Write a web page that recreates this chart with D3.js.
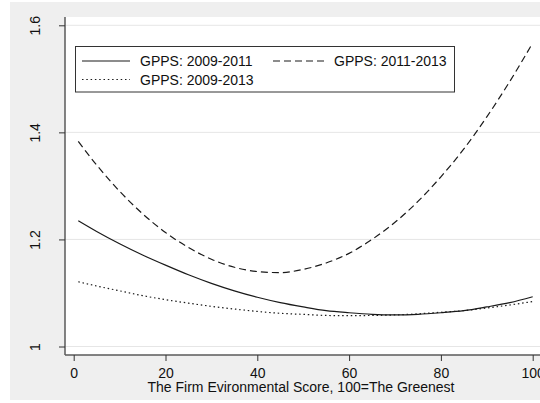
<!DOCTYPE html>
<html>
<head>
<meta charset="utf-8">
<script src="https://cdn.jsdelivr.net/npm/d3@7"></script>
<style>
  html, body { margin: 0; padding: 0; background: #ffffff; }
  svg { display: block; font-family: "Liberation Sans", Arial, sans-serif; }
</style>
</head>
<body>
<svg id="chart" width="540" height="403"></svg>
<script>
// ---- data ----
const xValues = [1, 5, 10, 15, 20, 25, 30, 35, 40, 45, 50, 55, 60, 65, 70, 75, 80, 85, 90, 95, 100];
const gpps0911 = [1.235, 1.215, 1.192, 1.171, 1.152, 1.134, 1.118, 1.104, 1.092, 1.082, 1.074, 1.067, 1.063, 1.060, 1.059, 1.060, 1.063, 1.067, 1.074, 1.082, 1.093];
const gpps1113 = [1.383, 1.339, 1.290, 1.248, 1.213, 1.185, 1.163, 1.148, 1.140, 1.138, 1.144, 1.156, 1.174, 1.200, 1.232, 1.271, 1.317, 1.369, 1.429, 1.495, 1.567];
const gpps0913 = [1.121, 1.113, 1.104, 1.095, 1.0875, 1.081, 1.075, 1.070, 1.0655, 1.062, 1.060, 1.058, 1.0575, 1.058, 1.059, 1.061, 1.064, 1.067, 1.072, 1.0775, 1.084];
const xTicks = [0, 20, 40, 60, 80, 100];
const yTicks = [1, 1.2, 1.4, 1.6];
const seriesNames = ["GPPS: 2009-2011", "GPPS: 2011-2013", "GPPS: 2009-2013"];
const xTitle = "The Firm Evironmental Score, 100=The Greenest";

const series = [
  { name: seriesNames[0], values: gpps0911, dash: null },
  { name: seriesNames[1], values: gpps1113, dash: "7,4" },
  { name: seriesNames[2], values: gpps0913, dash: "1.5,2.8" }
];

// ---- layout ----
const svg = d3.select("#chart");
const plotLeft = 65, plotTop = 17, plotBottom = 355, plotRight = 540;
const fontSize = "14px";

svg.append("rect").attr("x", 10).attr("y", 2).attr("width", 530).attr("height", 398)
  .attr("fill", "#efefef");
svg.append("rect").attr("x", plotLeft).attr("y", plotTop)
  .attr("width", plotRight - plotLeft).attr("height", plotBottom - plotTop)
  .attr("fill", "#ffffff");

const x = d3.scaleLinear().domain([0, 100]).range([73.7, 532.7]);
const y = d3.scaleLinear().domain([1, 1.6]).range([346.5, 25.3]);

// gridlines
svg.append("g").selectAll("line").data(yTicks).join("line")
  .attr("x1", plotLeft).attr("x2", plotRight)
  .attr("y1", d => y(d)).attr("y2", d => y(d))
  .attr("stroke", "#e6e6e6").attr("stroke-width", 1);

// y axis
const yAxis = d3.axisLeft(y).tickValues(yTicks).tickSize(6).tickPadding(0)
  .tickFormat(d => d3.format("")(d));
const gy = svg.append("g").attr("transform", `translate(${plotLeft},0)`).call(yAxis);
gy.select(".domain").attr("d", `M0,${plotTop}V${plotBottom}`).attr("stroke", "#5a5a5a").attr("stroke-width", 1.5);
gy.selectAll(".tick line").attr("stroke", "#333").attr("stroke-width", 1);
gy.selectAll(".tick text")
  .attr("x", 0).attr("dy", null)
  .attr("transform", "translate(-30,0) rotate(-90)")
  .attr("text-anchor", "middle").attr("dominant-baseline", "central")
  .attr("font-size", fontSize).attr("fill", "#111")
  .style("font-family", '"Liberation Sans", Arial, sans-serif');

// x axis
const xAxis = d3.axisBottom(x).tickValues(xTicks).tickSize(6).tickPadding(0);
const gx = svg.append("g").attr("transform", `translate(0,${plotBottom})`).call(xAxis);
gx.select(".domain").attr("d", `M${plotLeft},0H${plotRight}`).attr("stroke", "#5a5a5a").attr("stroke-width", 1.5);
gx.selectAll(".tick line").attr("stroke", "#333").attr("stroke-width", 1);
gx.selectAll(".tick text")
  .attr("y", 17.5).attr("dy", null).attr("dominant-baseline", "central")
  .attr("font-size", fontSize).attr("fill", "#111")
  .style("font-family", '"Liberation Sans", Arial, sans-serif');

svg.append("text").attr("x", 301).attr("y", 386.5)
  .attr("text-anchor", "middle").attr("dominant-baseline", "central")
  .attr("font-size", fontSize).attr("fill", "#111").text(xTitle);

// lines
const line = d3.line().x((d, i) => x(xValues[i])).y(d => y(d)).curve(d3.curveMonotoneX);
svg.append("g").selectAll("path").data(series).join("path")
  .attr("d", d => line(d.values))
  .attr("fill", "none").attr("stroke", "#1a1a1a").attr("stroke-width", 1.2)
  .attr("stroke-dasharray", d => d.dash);

// legend
const lg = svg.append("g");
lg.append("rect").attr("x", 75.5).attr("y", 46.5).attr("width", 379).attr("height", 45.5)
  .attr("fill", "#ffffff").attr("stroke", "#333").attr("stroke-width", 1);
const legendPos = [
  { lx1: 82, lx2: 130, tx: 140, ty: 61 },
  { lx1: 273, lx2: 327, tx: 334, ty: 61 },
  { lx1: 82, lx2: 130, tx: 140, ty: 79.5 }
];
series.forEach((s, i) => {
  const p = legendPos[i];
  lg.append("line").attr("x1", p.lx1).attr("x2", p.lx2).attr("y1", p.ty).attr("y2", p.ty)
    .attr("stroke", "#1a1a1a").attr("stroke-width", 1.2).attr("stroke-dasharray", s.dash);
  lg.append("text").attr("x", p.tx).attr("y", p.ty).attr("dominant-baseline", "central")
    .attr("font-size", fontSize).attr("fill", "#111").text(s.name);
});
</script>
</body>
</html>
